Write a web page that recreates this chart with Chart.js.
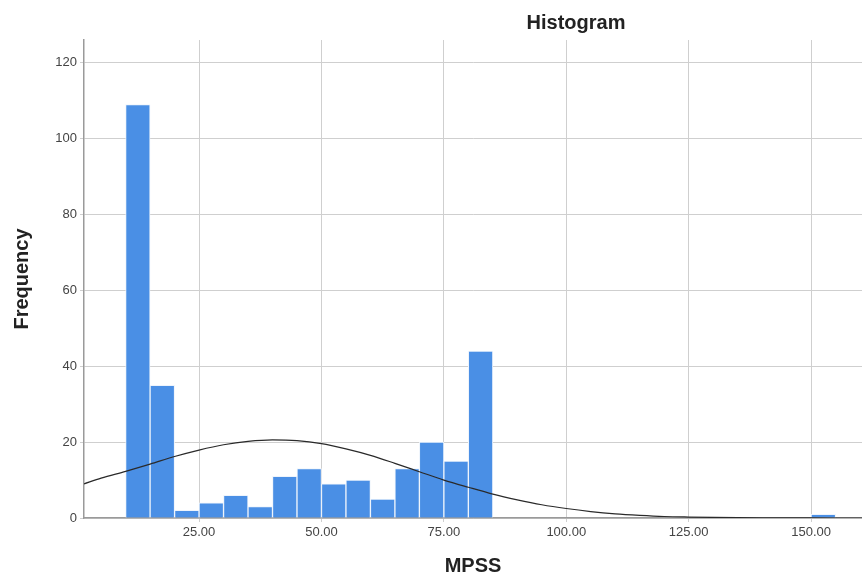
<!DOCTYPE html>
<html>
<head>
<meta charset="utf-8">
<script src="https://cdn.jsdelivr.net/npm/chart.js"></script>
<style>
  html, body { margin: 0; padding: 0; background: #fff; }
  #wrap { width: 862px; height: 578px; position: relative; }
</style>
</head>
<body>
<div id="wrap"><canvas id="hist" width="862" height="578"></canvas></div>
<script>
// histogram bins (width 5), midpoints
const binMids = [12.5, 17.5, 22.5, 27.5, 32.5, 37.5, 42.5, 47.5, 52.5, 57.5, 62.5, 67.5, 72.5, 77.5, 82.5, 152.5];
const counts  = [109, 35, 2, 4, 6, 3, 11, 13, 9, 10, 5, 13, 20, 15, 44, 1];

// normal curve
const curveX = [1.5, 5, 10, 15, 20, 25, 30, 35, 40, 45, 50, 55, 60, 65, 70, 75, 80, 85, 90, 95, 100, 105, 110, 115, 120, 125, 130, 140, 150, 160.4];
const curveY = [9, 10.5, 12.3, 14.2, 16.2, 17.9, 19.3, 20.2, 20.6, 20.4, 19.6, 18.2, 16.5, 14.4, 12.2, 10.0, 8.1, 6.3, 4.8, 3.5, 2.5, 1.7, 1.1, 0.7, 0.4, 0.25, 0.15, 0.05, 0.01, 0];

const xTicks = [25, 50, 75, 100, 125, 150];
const yTicks = [0, 20, 40, 60, 80, 100, 120];

const FONT = '"Liberation Sans", Arial, sans-serif';

// titre au-dessus, décalé comme dans l'original
const titlePlugin = {
  id: 'histTitle',
  afterDraw(chart) {
    const ctx = chart.ctx;
    ctx.save();
    ctx.font = 'bold 20px ' + FONT;
    ctx.fillStyle = '#222';
    ctx.textAlign = 'center';
    ctx.textBaseline = 'middle';
    ctx.fillText('Histogram', 576, 23);
    ctx.restore();
  }
};

new Chart(document.getElementById('hist'), {
  data: {
    datasets: [
      {
        type: 'line',
        data: curveX.map((x, i) => ({ x: x, y: curveY[i] })),
        borderColor: '#2a2a2a',
        borderWidth: 1.2,
        pointRadius: 0,
        tension: 0.4,
        cubicInterpolationMode: 'monotone',
        fill: false,
        order: 0
      },
      {
        type: 'bar',
        data: binMids.map((x, i) => ({ x: x, y: counts[i] })),
        backgroundColor: '#4a8fe5',
        borderColor: '#eef4fc',
        borderWidth: 1,
        borderSkipped: 'bottom',
        barPercentage: 1,
        categoryPercentage: 1,
        order: 1
      }
    ]
  },
  options: {
    responsive: false,
    animation: false,
    layout: { padding: { top: 40, left: 0, right: 0, bottom: 0 } },
    plugins: { legend: { display: false }, tooltip: { enabled: false } },
    scales: {
      x: {
        type: 'linear',
        min: 1.5,
        max: 160.4,
        offset: false,
        afterBuildTicks: s => { s.ticks = xTicks.map(v => ({ value: v })); },
        afterFit: s => { s.height = 60; },
        ticks: {
          callback: v => v.toFixed(2),
          color: '#444',
          font: { size: 13, family: FONT },
          maxRotation: 0,
          padding: 3
        },
        grid: { color: '#cfcfcf', lineWidth: 1, offset: false, tickLength: 4 },
        border: { color: '#9a9a9a', width: 1.5 },
        title: {
          display: true,
          text: 'MPSS',
          color: '#222',
          font: { size: 20, weight: 'bold', family: FONT },
          padding: { top: 0, bottom: 0 }
        }
      },
      y: {
        min: 0,
        max: 126,
        afterBuildTicks: s => { s.ticks = yTicks.map(v => ({ value: v })); },
        afterFit: s => { s.width = 84; },
        ticks: {
          color: '#444',
          font: { size: 13, family: FONT },
          padding: 3
        },
        grid: { color: '#cfcfcf', lineWidth: 1, tickLength: 4 },
        border: { color: '#9a9a9a', width: 1.5 },
        title: {
          display: true,
          text: 'Frequency',
          color: '#222',
          font: { size: 20, weight: 'bold', family: FONT },
          padding: { top: 10, bottom: 0 }
        }
      }
    }
  },
  plugins: [titlePlugin]
});
</script>
</body>
</html>
